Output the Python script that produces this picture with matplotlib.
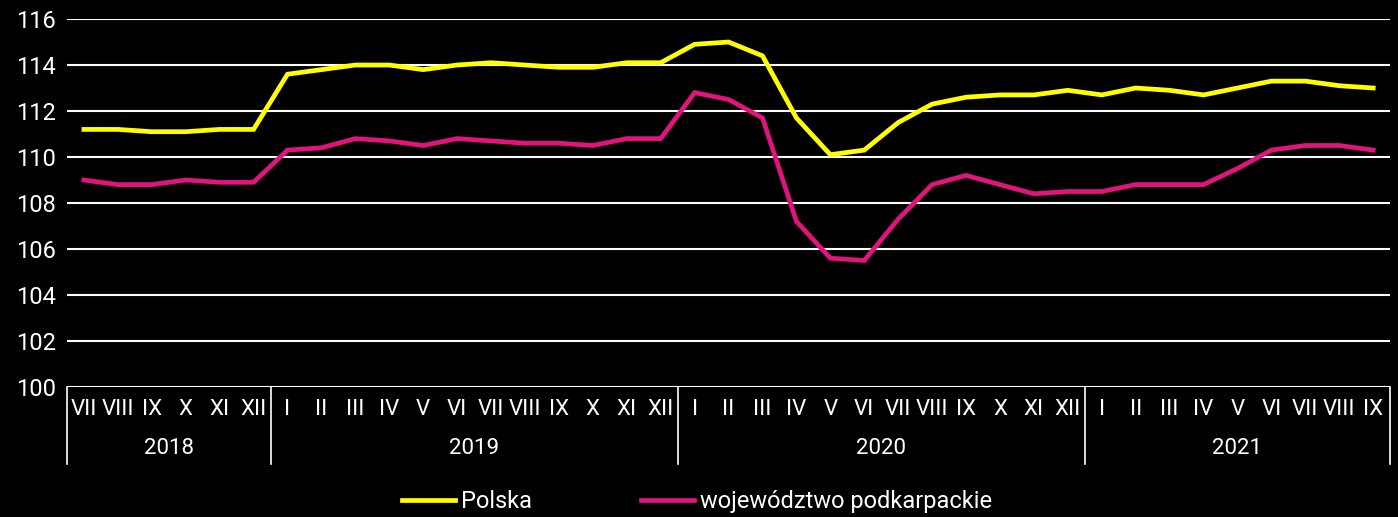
import matplotlib.pyplot as plt
import matplotlib.transforms as mtransforms
import numpy as np

# dane
months = ['VII', 'VIII', 'IX', 'X', 'XI', 'XII',
          'I', 'II', 'III', 'IV', 'V', 'VI', 'VII', 'VIII', 'IX', 'X', 'XI', 'XII',
          'I', 'II', 'III', 'IV', 'V', 'VI', 'VII', 'VIII', 'IX', 'X', 'XI', 'XII',
          'I', 'II', 'III', 'IV', 'V', 'VI', 'VII', 'VIII', 'IX']
years = ['2018', '2019', '2020', '2021']
year_counts = [6, 12, 12, 9]

polska = [111.2, 111.2, 111.1, 111.1, 111.2, 111.2,
          113.6, 113.8, 114.0, 114.0, 113.8, 114.0, 114.1, 114.0, 113.9, 113.9, 114.1, 114.1,
          114.9, 115.0, 114.4, 111.7, 110.1, 110.3, 111.5, 112.3, 112.6, 112.7, 112.7, 112.9,
          112.7, 113.0, 112.9, 112.7, 113.0, 113.3, 113.3, 113.1, 113.0]
podkarpackie = [109.0, 108.8, 108.8, 109.0, 108.9, 108.9,
                110.3, 110.4, 110.8, 110.7, 110.5, 110.8, 110.7, 110.6, 110.6, 110.5, 110.8, 110.8,
                112.8, 112.5, 111.7, 107.2, 105.6, 105.5, 107.3, 108.8, 109.2, 108.8, 108.4, 108.5,
                108.5, 108.8, 108.8, 108.8, 109.5, 110.3, 110.5, 110.5, 110.3]

plt.rcParams['font.family'] = ['Roboto', 'DejaVu Sans']

fig = plt.figure(figsize=(13.98, 5.17), dpi=100, facecolor='black')
ax = fig.add_axes([0.0479, 0.2515, 0.9465, 0.7117], facecolor='black')

x = np.arange(len(months))
ax.plot(x, polska, color='#ffff00', lw=3.4, solid_joinstyle='miter', label='Polska', zorder=3)
ax.plot(x, podkarpackie, color='#e0147c', lw=3.4, solid_joinstyle='miter',
        label='województwo podkarpackie', zorder=3)

ax.set_xlim(-0.5, len(months) - 0.5)
ax.set_ylim(100, 116)
ax.set_yticks(range(100, 117, 2))
ax.yaxis.grid(True, color='white', lw=1.5)
ax.set_axisbelow(True)
ax.tick_params(axis='y', length=0, colors='white', labelsize=17, pad=8)
ax.set_xticks([])
for s in ax.spines.values():
    s.set_visible(False)

# etykiety osi x: miesiące i lata
trans = mtransforms.blended_transform_factory(ax.transData, ax.transAxes)
for i, m in enumerate(months):
    ax.text(i, -0.06, m, transform=trans, ha='center', va='center', color='white', fontsize=16)

start = -0.5
bounds = [start]
for name, n in zip(years, year_counts):
    ax.text(start + n / 2, -0.168, name, transform=trans, ha='center', va='center',
            color='white', fontsize=16)
    start += n
    bounds.append(start)
for b in bounds:
    ax.plot([b, b], [0, -0.21], transform=trans, color='white', lw=1.2, clip_on=False)

leg = ax.legend(loc='center', bbox_to_anchor=(0.476, -0.3125), ncol=2, frameon=False,
                fontsize=17, labelcolor='white', handlelength=2.25, handletextpad=0.25,
                columnspacing=4.6)

fig.savefig('out.png', dpi=100, facecolor='black')
